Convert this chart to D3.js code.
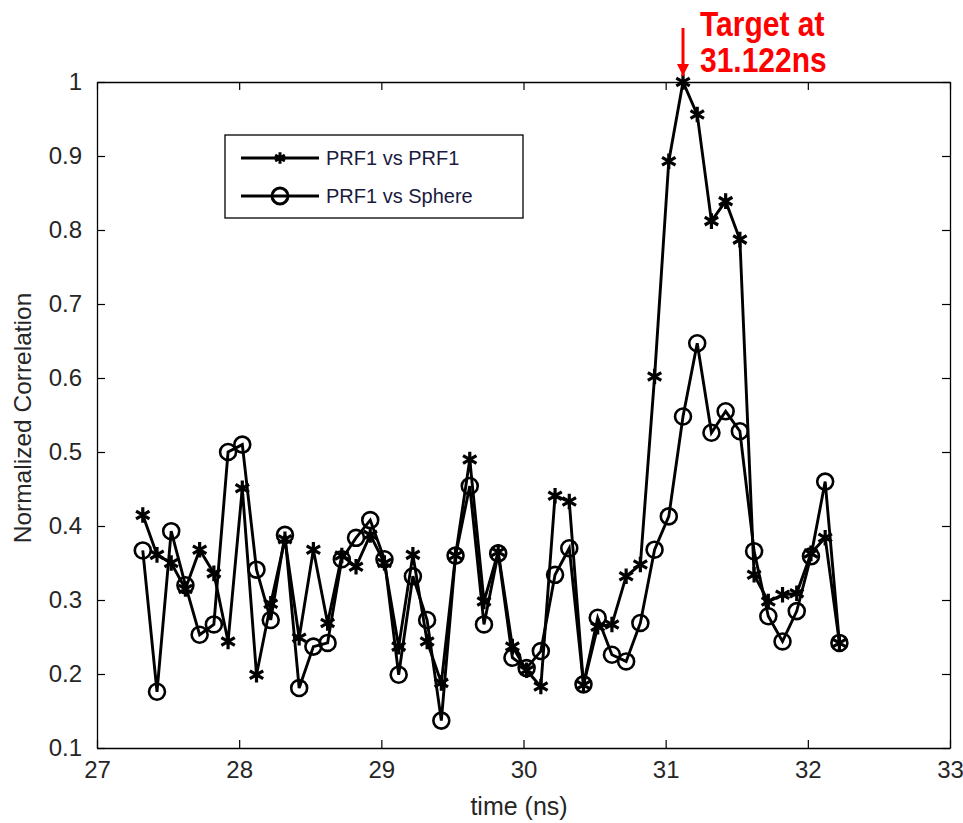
<!DOCTYPE html>
<html>
<head>
<meta charset="utf-8">
<script src="https://cdn.jsdelivr.net/npm/d3@7"></script>
<style>
  body { margin: 0; background: #fff; }
  text { font-family: "Liberation Sans", Arial, sans-serif; }
</style>
</head>
<body>
<svg id="chart" width="963" height="823"></svg>
<script>
const times = [27.322, 27.422, 27.522, 27.622, 27.722, 27.822, 27.922, 28.022, 28.122, 28.222,
               28.322, 28.422, 28.522, 28.622, 28.722, 28.822, 28.922, 29.022, 29.122, 29.222,
               29.322, 29.422, 29.522, 29.622, 29.722, 29.822, 29.922, 30.022, 30.122, 30.222,
               30.322, 30.422, 30.522, 30.622, 30.722, 30.822, 30.922, 31.022, 31.122, 31.222,
               31.322, 31.422, 31.522, 31.622, 31.722, 31.822, 31.922, 32.022, 32.122, 32.222];

const prf1 = [0.415, 0.361, 0.35, 0.315, 0.368, 0.336, 0.244, 0.451, 0.199, 0.295,
              0.382, 0.249, 0.368, 0.269, 0.36, 0.345, 0.388, 0.35, 0.237, 0.361,
              0.244, 0.188, 0.36, 0.49, 0.298, 0.365, 0.237, 0.205, 0.183, 0.441,
              0.433, 0.185, 0.264, 0.267, 0.332, 0.348, 0.602, 0.893, 1.0, 0.956,
              0.812, 0.839, 0.787, 0.334, 0.298, 0.307, 0.309, 0.363, 0.384, 0.242];

const sphere = [0.367, 0.176, 0.393, 0.32, 0.253, 0.267, 0.5, 0.51, 0.341, 0.273,
                0.388, 0.181, 0.237, 0.242, 0.355, 0.384, 0.408, 0.355, 0.199, 0.332,
                0.273, 0.137, 0.36, 0.454, 0.267, 0.363, 0.222, 0.208, 0.231, 0.334,
                0.37, 0.186, 0.276, 0.226, 0.217, 0.269, 0.368, 0.413, 0.548, 0.647,
                0.526, 0.555, 0.528, 0.366, 0.278, 0.244, 0.285, 0.359, 0.46, 0.242];

const xTicks = [27, 28, 29, 30, 31, 32, 33];
const yTicks = [0.1, 0.2, 0.3, 0.4, 0.5, 0.6, 0.7, 0.8, 0.9, 1];
const seriesNames = ["PRF1 vs PRF1", "PRF1 vs Sphere"];
const target = { t: 31.122, v: 1.0, lines: ["Target at", "31.122ns"] };

const svg = d3.select("#chart");
const mLeft = 97, mRight = 950, mTop = 82, mBottom = 748;

let x = d3.scaleLinear().domain([27, 33]).range([mLeft, mRight]);
let y = d3.scaleLinear().domain([0.1, 1]).range([mBottom, mTop]);

// box + inward ticks on all sides (matlab style)
let tickFmt = d => String(d);
svg.append("g").attr("transform", `translate(0,${mBottom})`)
   .call(d3.axisBottom(x).tickValues(xTicks).tickSizeInner(-8).tickSizeOuter(0).tickPadding(13).tickFormat(tickFmt));
svg.append("g").attr("transform", `translate(0,${mTop})`)
   .call(d3.axisTop(x).tickValues(xTicks).tickSizeInner(-8).tickSizeOuter(0).tickFormat(""));
svg.append("g").attr("transform", `translate(${mLeft},0)`)
   .call(d3.axisLeft(y).tickValues(yTicks).tickSizeInner(-8).tickSizeOuter(0).tickPadding(15).tickFormat(tickFmt));
svg.append("g").attr("transform", `translate(${mRight},0)`)
   .call(d3.axisRight(y).tickValues(yTicks).tickSizeInner(-8).tickSizeOuter(0).tickFormat(""));

svg.selectAll(".domain").attr("stroke", "#000").attr("stroke-width", 1.3);
svg.selectAll(".tick line").attr("stroke", "#000").attr("stroke-width", 1.2);
svg.selectAll(".tick text").attr("font-size", 24).attr("fill", "#262626")
   .attr("font-family", "'Liberation Sans', Arial, sans-serif");

// labels
svg.append("text").attr("x", 519).attr("y", 815)
   .attr("text-anchor", "middle").attr("font-size", 25).attr("fill", "#262626")
   .text("time (ns)");
svg.append("text").attr("transform", `translate(31,418) rotate(-90)`)
   .attr("text-anchor", "middle").attr("font-size", 24.5).attr("fill", "#262626")
   .text("Normalized Correlation");

let line = d3.line().x((d, i) => x(times[i])).y(d => y(d));
let star = d3.symbol().type(d3.symbolAsterisk).size(170);
let circle = d3.symbol().type(d3.symbolCircle).size(200);

// PRF1 vs PRF1
svg.append("path").datum(prf1).attr("d", line)
   .attr("fill", "none").attr("stroke", "#000").attr("stroke-width", 2.9);
svg.append("g").selectAll("path").data(prf1).enter().append("path")
   .attr("d", star).attr("transform", (d, i) => `translate(${x(times[i])},${y(d)})`)
   .attr("fill", "none").attr("stroke", "#000").attr("stroke-width", 3.2);

// PRF1 vs Sphere
svg.append("path").datum(sphere).attr("d", line)
   .attr("fill", "none").attr("stroke", "#000").attr("stroke-width", 2.9);
svg.append("g").selectAll("path").data(sphere).enter().append("path")
   .attr("d", circle).attr("transform", (d, i) => `translate(${x(times[i])},${y(d)})`)
   .attr("fill", "none").attr("stroke", "#000").attr("stroke-width", 2.6);

// legend
let lg = svg.append("g").attr("transform", "translate(225,135)");
lg.append("rect").attr("width", 298).attr("height", 83)
  .attr("fill", "#fff").attr("stroke", "#000").attr("stroke-width", 1.3);
seriesNames.forEach((name, k) => {
  let yy = 23 + k * 38;
  lg.append("line").attr("x1", 16).attr("x2", 94).attr("y1", yy).attr("y2", yy)
    .attr("stroke", "#000").attr("stroke-width", 2.9);
  lg.append("path").attr("d", k === 0 ? d3.symbol().type(d3.symbolAsterisk).size(90) : circle)
    .attr("transform", `translate(55,${yy})`)
    .attr("fill", "none").attr("stroke", "#000").attr("stroke-width", 3);
  lg.append("text").attr("x", 101).attr("y", yy + 7).attr("font-size", 20)
    .attr("fill", "#1a1a40").text(name);
});

// target annotation
let tx = x(target.t);
svg.append("defs").append("marker").attr("id", "arr")
   .attr("viewBox", "0 0 10 10").attr("refX", 10).attr("refY", 5)
   .attr("markerWidth", 4).attr("markerHeight", 4).attr("orient", "auto")
   .append("path").attr("d", "M0,0L10,5L0,10z").attr("fill", "#f00");
svg.append("line").attr("x1", tx).attr("x2", tx).attr("y1", 28).attr("y2", y(target.v) - 6)
   .attr("stroke", "#f00").attr("stroke-width", 3).attr("marker-end", "url(#arr)");
target.lines.forEach((s, k) => {
  svg.append("text").attr("transform", `translate(${tx + 17},${36 + k * 36}) scale(1,1.15)`)
     .attr("font-size", 30).attr("font-weight", "bold").attr("fill", "#f00")
     .text(s);
});
</script>
</body>
</html>
